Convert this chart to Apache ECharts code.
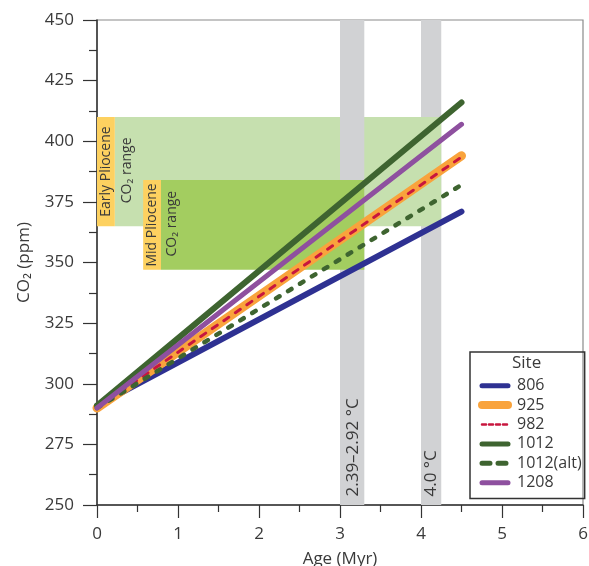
<!DOCTYPE html>
<html>
<head>
<meta charset="utf-8">
<script src="https://cdn.jsdelivr.net/npm/echarts@6/dist/echarts.min.js"></script>
<style>
html,body{margin:0;padding:0;background:#fff;}
#chart{width:589px;height:566px;}
</style>
</head>
<body>
<div id="chart"></div>
<script>
// ---- data ----
const sites = ['806', '925', '982', '1012', '1012(alt)', '1208'];
const ages = [0, 4.5];                       // Myr
const co2_806 = [291, 371];
const co2_925 = [290, 394];
const co2_982 = [290, 393.5];
const co2_1012 = [291, 416];
const co2_1012alt = [290, 382];
const co2_1208 = [290, 407];

const warmBars = [[3.0, 3.3], [4.0, 4.25]];  // Myr spans
const warmLabels = ['2.39\u20132.92 \u00b0C', '4.0 \u00b0C'];
const earlyRangeX = [0.22, 4.25];
const earlyRangeCO2 = [365, 410];
const earlyTagX = [0, 0.22];
const midRangeX = [0.79, 3.3];
const midRangeCO2 = [347, 384];
const midTagX = [0.57, 0.79];

const xTicks = [0, 1, 2, 3, 4, 5, 6];
const yTicks = [250, 275, 300, 325, 350, 375, 400, 425, 450];

// ---- styles ----
const FONT = '"Open Sans", "Noto Sans", sans-serif';
const TXT = '#3a3a3a';
const colors = {
  '806': '#2e3192', '925': '#f9a33c', '982': '#c8163e',
  '1012': '#3e6430', '1012(alt)': '#3e6430', '1208': '#8e509f'
};
const widths = {'806': 6, '925': 9, '982': 3, '1012': 6, '1012(alt)': 4.5, '1208': 5};
const legendWidths = {'806': 5, '925': 8, '982': 2.5, '1012': 5, '1012(alt)': 5, '1208': 5};
const dashes = {'982': [6, 8], '1012(alt)': [4, 10]};
const legendDashes = {'982': [4, 3], '1012(alt)': [8, 8]};
const values = {'806': co2_806, '925': co2_925, '982': co2_982, '1012': co2_1012, '1012(alt)': co2_1012alt, '1208': co2_1208};

// rectangles, drawn bottom to top: [x0, y0, x1, y1, kind]
const rects = [
  [warmBars[1][0], 250, warmBars[1][1], 450, 0],
  [earlyRangeX[0], earlyRangeCO2[0], earlyRangeX[1], earlyRangeCO2[1], 1],
  [earlyTagX[0], earlyRangeCO2[0], earlyTagX[1], earlyRangeCO2[1], 2],
  [warmBars[0][0], 250, warmBars[0][1], 450, 0],
  [midRangeX[0], midRangeCO2[0], midRangeX[1], midRangeCO2[1], 3],
  [midTagX[0], midRangeCO2[0], midTagX[1], midRangeCO2[1], 2]
];
const rectColors = ['#d1d2d4', '#c6e0af', '#fdd160', '#a3cd60'];

// rotated labels: [x, y, text, kind]
const texts = [
  [(earlyTagX[0] + earlyTagX[1]) / 2, (earlyRangeCO2[0] + earlyRangeCO2[1]) / 2, 'Early Pliocene', 0],
  [0.37, 388, 'CO\u2082 range', 0],
  [(midTagX[0] + midTagX[1]) / 2, (midRangeCO2[0] + midRangeCO2[1]) / 2, 'Mid Pliocene', 0],
  [0.92, 366, 'CO\u2082 range', 0],
  [3.16, 253.5, warmLabels[0], 1],
  [4.13, 253.5, warmLabels[1], 1]
];

const chart = echarts.init(document.getElementById('chart'), null, {renderer: 'canvas'});

const lineSeries = sites.map(s => ({
  name: s,
  type: 'line',
  data: ages.map((a, i) => [a, values[s][i]]),
  symbol: 'none',
  showSymbol: false,
  silent: true,
  lineStyle: {
    color: colors[s], width: widths[s], cap: 'round',
    type: dashes[s] ? dashes[s] : 'solid'
  },
  itemStyle: {color: colors[s]},
  z: 3
}));

chart.setOption({
  animation: false,
  textStyle: {fontFamily: FONT},
  title: {
    text: 'Site', left: 512, top: 355, padding: 0,
    textStyle: {fontSize: 17, fontWeight: 'normal', color: TXT, fontFamily: FONT}
  },
  grid: {
    left: 97, right: 6, top: 20, bottom: 61,
    outerBoundsMode: 'none', containLabel: false,
    show: true, borderColor: '#8a8a8a', borderWidth: 1.2, backgroundColor: 'transparent'
  },
  legend: {
    data: sites.map(s => ({
      name: s,
      lineStyle: {
        color: colors[s], width: legendWidths[s], cap: 'round',
        type: legendDashes[s] ? legendDashes[s] : 'solid'
      }
    })),
    orient: 'vertical',
    left: 470, top: 352,
    padding: [24, 3, 6, 8],
    itemWidth: 26, itemHeight: 14, itemGap: 0,
    borderColor: '#333', borderWidth: 1.5,
    itemStyle: {opacity: 0},
    textStyle: {fontSize: 16, lineHeight: 19.4, color: TXT, fontFamily: FONT, padding: [0, 0, 0, 4]},
    selectedMode: false
  },
  xAxis: {
    type: 'value', min: 0, max: 6, interval: 1,
    name: 'Age (Myr)', nameLocation: 'middle', nameGap: 46,
    nameTextStyle: {fontSize: 17, color: TXT, fontFamily: FONT},
    axisLine: {show: true, lineStyle: {color: '#333', width: 1.5}},
    axisTick: {show: true, length: 13, lineStyle: {color: '#333', width: 1.2}},
    minorTick: {show: true, splitNumber: 2, length: 7, lineStyle: {color: '#333', width: 1.2}},
    splitLine: {show: false},
    axisLabel: {
      margin: 21, fontSize: 17, color: TXT, fontFamily: FONT,
      formatter: v => xTicks.indexOf(v) >= 0 ? String(v) : ''
    }
  },
  yAxis: {
    type: 'value', min: 250, max: 450, interval: 25,
    name: 'CO\u2082 (ppm)', nameLocation: 'middle', nameGap: 64,
    nameTextStyle: {fontSize: 17, color: TXT, fontFamily: FONT},
    axisLine: {show: true, lineStyle: {color: '#333', width: 1.5}},
    axisTick: {show: true, length: 14, lineStyle: {color: '#333', width: 1.2}},
    minorTick: {show: true, splitNumber: 2, length: 8, lineStyle: {color: '#333', width: 1.2}},
    splitLine: {show: false},
    axisLabel: {
      margin: 23, fontSize: 17, color: TXT, fontFamily: FONT,
      formatter: v => yTicks.indexOf(v) >= 0 ? String(v) : ''
    }
  },
  series: [
    {
      type: 'custom',
      silent: true,
      z: 1,
      data: rects,
      encode: {x: [0, 2], y: [1, 3]},
      renderItem: function (params, api) {
        const p0 = api.coord([api.value(0), api.value(1)]);
        const p1 = api.coord([api.value(2), api.value(3)]);
        return {
          type: 'rect',
          shape: {x: p0[0], y: p1[1], width: p1[0] - p0[0], height: p0[1] - p1[1]},
          style: {fill: rectColors[api.value(4)]}
        };
      }
    },
    ...lineSeries,
    {
      type: 'custom',
      silent: true,
      z: 2,
      data: texts,
      encode: {x: 0, y: 1},
      renderItem: function (params, api) {
        const p = api.coord([api.value(0), api.value(1)]);
        const kind = api.value(3);
        return {
          type: 'text',
          x: p[0], y: p[1],
          rotation: Math.PI / 2,
          style: {
            text: texts[params.dataIndex][2],
            fill: TXT,
            fontSize: kind === 0 ? 14 : 17,
            fontFamily: FONT,
            align: kind === 0 ? 'center' : 'left',
            verticalAlign: 'middle'
          }
        };
      }
    }
  ]
});
</script>
</body>
</html>
